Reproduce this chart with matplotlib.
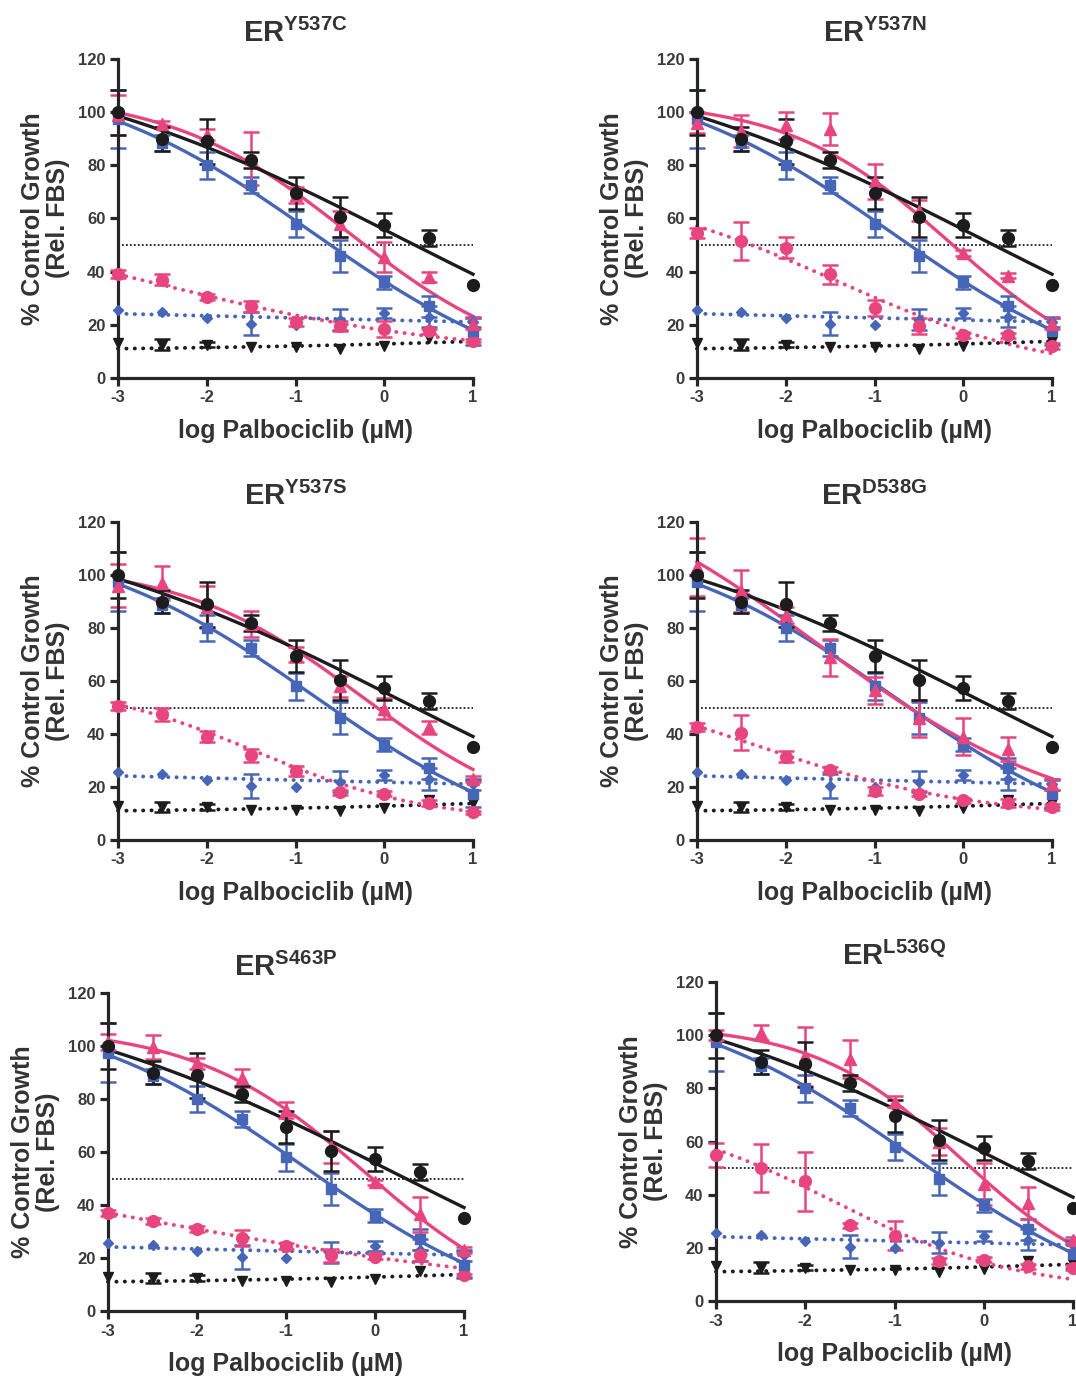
import numpy as np
import matplotlib
matplotlib.use("Agg")
import matplotlib.pyplot as plt

plt.rcParams["font.family"] = ["Liberation Sans", "DejaVu Sans"]
plt.rcParams["font.weight"] = "bold"
plt.rcParams["mathtext.fontset"] = "custom"
plt.rcParams["mathtext.rm"] = "Liberation Sans:bold"
plt.rcParams["mathtext.bf"] = "Liberation Sans:bold"

# ---------------- data ----------------
log_dose = [-3, -2.5, -2, -1.5, -1, -0.5, 0, 0.5, 1]
curve_dose = [-3, -2, -1, 0, 1]          # where the fitted curves were read

# series shared by all panels
black_circle = [100, 90, 89, 82, 69.5, 60.5, 57.5, 52.5, 35]
black_circle_err = [8.5, 4.5, 8.5, 3, 6, 7.5, 4.5, 3, 0]
blue_square = [97.5, 88.5, 80, 72.5, 58, 46, 36, 27, 17.5]
blue_square_err = [11, 3, 5, 3, 5, 6, 2.5, 4, 5]
blue_diamond = [25.5, 25, 22.5, 20.5, 20, 22, 24.5, 23, 21]
blue_diamond_err = [0, 0, 0, 4.5, 0, 4, 2, 4, 2]
black_invtri = [13, 12.5, 12.5, 11.5, 11.5, 11, 12, 15, 14]
black_invtri_err = [0, 2, 1, 0, 0, 0, 0, 0, 0]

# fitted curves of the shared series (values read at curve_dose)
black_circle_fit = [98.5, 87, 72, 56, 39]
blue_square_fit = [96.5, 81, 59, 36.5, 18]
blue_diamond_fit = [24.2, 23.4, 22.6, 21.8, 21.1]
black_invtri_fit = [11, 11.5, 12, 12.8, 13.8]

panel_titles = ["Y537C", "Y537N", "Y537S", "D538G", "S463P", "L536Q"]

pink_tri_Y537C = [99, 95.5, 91.5, 82.5, 69, 58, 45.5, 38, 20.5]
pink_tri_err_Y537C = [7.5, 1, 2, 10, 3, 5, 5.5, 2, 2]
pink_circ_Y537C = [39, 37, 30.5, 27, 21, 19.5, 18.5, 17.5, 14]
pink_circ_err_Y537C = [1.5, 2, 1, 2, 1.5, 2, 3, 1, 0.5]
pink_tri_fit_Y537C = [99.5, 90, 69, 45, 23]
pink_circ_fit_Y537C = [39, 31, 23.5, 18, 14]

pink_tri_Y537N = [96, 93, 95, 93.5, 74, 63, 47, 38.5, 20.5]
pink_tri_err_Y537N = [4, 6, 5, 6, 6.5, 4, 1, 1, 2]
pink_circ_Y537N = [54.5, 51.5, 49, 39, 26.5, 19.5, 16, 16, 12]
pink_circ_err_Y537N = [2, 7, 4, 3.5, 3, 3, 1, 1, 1]
pink_tri_fit_Y537N = [99.5, 93, 73.5, 47, 21]
pink_circ_fit_Y537N = [57, 45, 30, 18, 9]

pink_tri_Y537S = [96, 97, 88, 81.5, 70, 58, 49.5, 42.5, 23]
pink_tri_err_Y537S = [8, 6.5, 8, 5, 3, 4, 4, 2.5, 1]
pink_circ_Y537S = [50.5, 47.5, 39, 32, 26, 18, 17.5, 14, 10.5]
pink_circ_err_Y537S = [1.5, 2.5, 2, 2.5, 2, 1, 1, 1, 0.5]
pink_tri_fit_Y537S = [98, 89, 72, 48, 26.5]
pink_circ_fit_Y537S = [51, 41, 27, 17, 10.5]

pink_tri_D538G = [103, 94, 85, 69, 56.5, 46, 39, 34.5, 21]
pink_tri_err_D538G = [11, 8, 3, 7, 5, 7, 7, 4.5, 2]
pink_circ_D538G = [42.5, 40.5, 31.5, 26.5, 18.5, 17.5, 15, 14, 12.5]
pink_circ_err_D538G = [1.5, 6.5, 2, 1, 1.5, 1, 1, 1.5, 1]
pink_tri_fit_D538G = [105, 83, 58, 38.5, 23]
pink_circ_fit_D538G = [43, 32, 22, 15.5, 11.5]

pink_tri_S463P = [101.5, 99.5, 93.5, 88, 76, 62, 48.5, 36.5, 23]
pink_tri_err_S463P = [3, 4.5, 2, 3.5, 3, 6, 1, 6.5, 1]
pink_circ_S463P = [37, 34, 31, 27.5, 24.5, 21, 20.5, 21, 13.5]
pink_circ_err_S463P = [1, 1, 1, 3, 1, 2.5, 1, 2, 0.5]
pink_tri_fit_S463P = [102, 94, 76, 49, 23.5]
pink_circ_fit_S463P = [37, 31, 25, 20.5, 16]

pink_tri_L536Q = [100, 101, 92, 91, 75, 60, 44, 37, 23]
pink_tri_err_L536Q = [2, 3, 11, 7, 2, 5, 8, 6, 1]
pink_circ_L536Q = [55, 50, 45, 28.5, 24.5, 15, 15.5, 13, 12.5]
pink_circ_err_L536Q = [4.5, 9, 11, 1, 5.5, 1, 1, 1, 1]
pink_tri_fit_L536Q = [100.5, 93, 75, 46, 21]
pink_circ_fit_L536Q = [57, 43, 26, 15, 8]

pink_tri_sets = [pink_tri_Y537C, pink_tri_Y537N, pink_tri_Y537S,
                 pink_tri_D538G, pink_tri_S463P, pink_tri_L536Q]
pink_tri_err_sets = [pink_tri_err_Y537C, pink_tri_err_Y537N, pink_tri_err_Y537S,
                     pink_tri_err_D538G, pink_tri_err_S463P, pink_tri_err_L536Q]
pink_circ_sets = [pink_circ_Y537C, pink_circ_Y537N, pink_circ_Y537S,
                  pink_circ_D538G, pink_circ_S463P, pink_circ_L536Q]
pink_circ_err_sets = [pink_circ_err_Y537C, pink_circ_err_Y537N, pink_circ_err_Y537S,
                      pink_circ_err_D538G, pink_circ_err_S463P, pink_circ_err_L536Q]
pink_tri_fit_sets = [pink_tri_fit_Y537C, pink_tri_fit_Y537N, pink_tri_fit_Y537S,
                     pink_tri_fit_D538G, pink_tri_fit_S463P, pink_tri_fit_L536Q]
pink_circ_fit_sets = [pink_circ_fit_Y537C, pink_circ_fit_Y537N, pink_circ_fit_Y537S,
                      pink_circ_fit_D538G, pink_circ_fit_S463P, pink_circ_fit_L536Q]

# ---------------- styling ----------------
PINK = "#E8457F"
BLUE = "#4766B8"
BLACK = "#1C1C1C"
TEXT = "#333333"


def fit_4pl(x, y):
    """Four-parameter logistic least-squares fit (grid over EC50/slope, linear in top/bottom)."""
    x = np.asarray(x, float)
    y = np.asarray(y, float)
    cs = np.linspace(-6, 5, 221)[:, None, None]
    hs = np.linspace(0.15, 2.0, 75)[None, :, None]
    f = 1.0 / (1.0 + 10.0 ** ((x[None, None, :] - cs) * hs))
    fm = f.mean(axis=2, keepdims=True)
    ym = y.mean()
    varf = ((f - fm) ** 2).sum(axis=2, keepdims=True)
    cov = ((f - fm) * (y - ym)).sum(axis=2, keepdims=True)
    b = cov / np.maximum(varf, 1e-12)
    a = ym - b * fm
    sse = ((a + b * f - y) ** 2).sum(axis=2)
    sse[varf[..., 0] < 1e-4] = np.inf
    i, j = np.unravel_index(np.argmin(sse), sse.shape)
    c = cs[i, 0, 0]
    h = hs[0, j, 0]
    aa = a[i, j, 0]
    bb = b[i, j, 0]
    return lambda xx: aa + bb / (1.0 + 10.0 ** ((xx - c) * h))


xs = np.linspace(-3, 1, 300)
fit_black = fit_4pl(curve_dose, black_circle_fit)
fit_blue = fit_4pl(curve_dose, blue_square_fit)
fit_bdia = fit_4pl(curve_dose, blue_diamond_fit)
fit_binv = fit_4pl(curve_dose, black_invtri_fit)

W, H = 1076, 1376
# (left px, right px, y=0 px, y=120 px)
panel_px = [(118, 473, 378, 59), (697, 1052, 378, 59),
            (118, 473, 840, 522), (697, 1052, 840, 522),
            (108, 464, 1311, 993), (716, 1073, 1301, 982)]

fig = plt.figure(figsize=(W / 100, H / 100), dpi=100)

DOT = (0, (0.05, 2.1))


def errbars(ax, y, err, color):
    xarr = np.asarray(log_dose)
    yarr = np.asarray(y, float)
    earr = np.asarray(err, float)
    m = earr > 0
    ax.errorbar(xarr[m], yarr[m], yerr=earr[m], fmt="none", ecolor=color,
                elinewidth=1.8, capsize=5.5, capthick=1.8, clip_on=False, zorder=4)


for k, (l, r, y0, y120) in enumerate(panel_px):
    ax = fig.add_axes([l / W, 1 - y0 / H, (r - l) / W, (y0 - y120) / H])
    ax.set_xlim(-3, 1)
    ax.set_ylim(0, 120)

    pt = pink_tri_sets[k]
    pc = pink_circ_sets[k]
    fit_pt = fit_4pl(curve_dose, pink_tri_fit_sets[k])
    fit_pc = fit_4pl(curve_dose, pink_circ_fit_sets[k])

    # 50% reference line
    ax.plot([-3, 1], [50, 50], color=BLACK, lw=1.3, ls=(0, (1, 1.2)), zorder=2)

    # dotted fits
    for fn, col in [(fit_binv, BLACK), (fit_bdia, BLUE), (fit_pc, PINK)]:
        ax.plot(xs, fn(xs), color=col, lw=2.8, ls=DOT, dash_capstyle="round",
                zorder=3, clip_on=False)

    # solid fits
    for fn, col in [(fit_blue, BLUE), (fit_pt, PINK), (fit_black, BLACK)]:
        ax.plot(xs, fn(xs), color=col, lw=2.4, zorder=3, clip_on=False)

    # error bars
    errbars(ax, black_invtri, black_invtri_err, BLACK)
    errbars(ax, blue_diamond, blue_diamond_err, BLUE)
    errbars(ax, pc, pink_circ_err_sets[k], PINK)
    errbars(ax, blue_square, blue_square_err, BLUE)
    errbars(ax, pt, pink_tri_err_sets[k], PINK)
    errbars(ax, black_circle, black_circle_err, BLACK)

    # markers
    ax.plot(log_dose, black_invtri, ls="none", marker="v", ms=7.5, color=BLACK, zorder=5, clip_on=False)
    ax.plot(log_dose, blue_diamond, ls="none", marker="D", ms=5, color=BLUE, zorder=5, clip_on=False)
    ax.plot(log_dose, pc, ls="none", marker="o", ms=8.5, color=PINK, zorder=5, clip_on=False)
    ax.plot(log_dose, blue_square, ls="none", marker="s", ms=7, color=BLUE, zorder=5, clip_on=False)
    ax.plot(log_dose, pt, ls="none", marker="^", ms=8, color=PINK, zorder=5, clip_on=False)
    ax.plot(log_dose, black_circle, ls="none", marker="o", ms=8.5, color=BLACK, zorder=6, clip_on=False)

    # axes styling
    for s in ["top", "right"]:
        ax.spines[s].set_visible(False)
    for s in ["left", "bottom"]:
        ax.spines[s].set_linewidth(2.3)
        ax.spines[s].set_color("#262626")
        ax.spines[s].set_zorder(4)
    ax.set_xticks([-3, -2, -1, 0, 1])
    ax.set_xticklabels(["-3", "-2", "-1", "0", "1"])
    ax.set_yticks([0, 20, 40, 60, 80, 100, 120])
    ax.tick_params(axis="both", direction="out", length=6, width=2.3, color="#262626",
                   labelsize=12, labelcolor="#3a3a3a", pad=3)
    for lab in ax.get_xticklabels() + ax.get_yticklabels():
        lab.set_fontweight("bold")
    ax.set_xlabel("log Palbociclib (µM)", fontsize=18, fontweight="bold", color=TEXT, labelpad=10)
    ax.set_ylabel("% Control Growth\n(Rel. FBS)", fontsize=18, fontweight="bold", color=TEXT,
                  labelpad=6, linespacing=1.05)
    ax.set_title(r"$\mathbf{ER}^{\mathbf{" + panel_titles[k] + r"}}$", fontsize=21,
                 color=TEXT, pad=12)

fig.savefig("out.png", dpi=100)
